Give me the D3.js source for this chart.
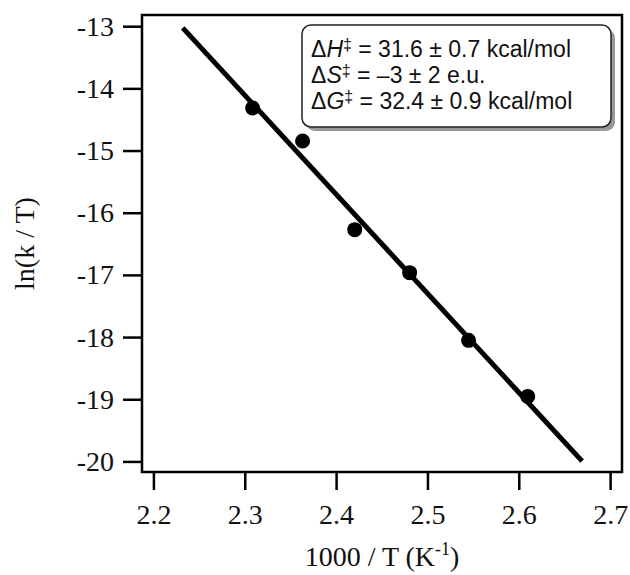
<!DOCTYPE html>
<html>
<head>
<meta charset="utf-8">
<script src="https://cdn.jsdelivr.net/npm/d3@7"></script>
<style>
  body { margin: 0; background: #fff; }
</style>
</head>
<body>
<div id="chart"></div>
<script>
// data
const invT = [2.3086, 2.3633, 2.4204, 2.4805, 2.545, 2.6098];
const lnkT = [-14.315, -14.846, -16.272, -16.964, -18.053, -18.954];
const fitX = [2.2321, 2.6693];
const fitY = [-13.027, -19.995];
const xTicks = [2.2, 2.3, 2.4, 2.5, 2.6, 2.7];
const yTicks = [-13, -14, -15, -16, -17, -18, -19, -20];
const boxLines = [
  { sym: 'H', rest: ' = 31.6 ± 0.7 kcal/mol' },
  { sym: 'S', rest: ' = –3 ± 2 e.u.' },
  { sym: 'G', rest: ' = 32.4 ± 0.9 kcal/mol' }
];

const width = 630, height = 575;
const plot = { left: 142, right: 622, top: 15, bottom: 472 };
const serif = '"Liberation Serif", "DejaVu Serif", serif';
const sans = '"Liberation Sans", Arial, sans-serif';

const svg = d3.select('#chart').append('svg')
  .attr('width', width)
  .attr('height', height);

const x = d3.scaleLinear()
  .domain([2.1875, 2.713])
  .range([plot.left, plot.right]);

const y = d3.scaleLinear()
  .domain([-12.82, -20.17])
  .range([plot.top, plot.bottom]);

// X-axis
const xAxis = svg.append('g')
  .attr('transform', `translate(0, ${plot.bottom})`)
  .call(d3.axisBottom(x).tickValues(xTicks).tickSize(18).tickPadding(14).tickFormat(d3.format('.1f')));

// Y-axis
const yAxis = svg.append('g')
  .attr('transform', `translate(${plot.left}, 0)`)
  .call(d3.axisLeft(y).tickValues(yTicks).tickSize(19).tickPadding(9).tickFormat(d => d.toString().replace('−', '-')));

[xAxis, yAxis].forEach(ax => {
  ax.select('.domain').remove();
  ax.selectAll('line').attr('stroke', '#000').attr('stroke-width', 2.5);
  ax.selectAll('text')
    .style('font-family', serif)
    .style('font-size', '28px')
    .attr('fill', '#111');
});

// frame
svg.append('rect')
  .attr('x', plot.left)
  .attr('y', plot.top)
  .attr('width', plot.right - plot.left)
  .attr('height', plot.bottom - plot.top)
  .attr('fill', 'none')
  .attr('stroke', '#000')
  .attr('stroke-width', 2.5);

// fit line
svg.append('path')
  .datum(fitX.map((v, i) => [v, fitY[i]]))
  .attr('d', d3.line().x(d => x(d[0])).y(d => y(d[1])))
  .attr('stroke', '#000')
  .attr('stroke-width', 5)
  .attr('fill', 'none');

// points
svg.selectAll('.pt')
  .data(invT)
  .enter().append('circle')
  .attr('class', 'pt')
  .attr('cx', d => x(d))
  .attr('cy', (d, i) => y(lnkT[i]))
  .attr('r', 7.5)
  .attr('fill', '#000');

// parameter box
const box = { x: 302, y: 25, w: 309, h: 102 };
svg.append('rect')
  .attr('x', box.x + 4).attr('y', box.y + 4)
  .attr('width', box.w).attr('height', box.h)
  .attr('rx', 9)
  .attr('fill', '#999');
svg.append('rect')
  .attr('x', box.x).attr('y', box.y)
  .attr('width', box.w).attr('height', box.h)
  .attr('rx', 9)
  .attr('fill', '#fff')
  .attr('stroke', '#222')
  .attr('stroke-width', 1.5);

boxLines.forEach((l, i) => {
  const t = svg.append('text')
    .attr('x', 311)
    .attr('y', 57 + i * 26)
    .style('font-family', sans)
    .style('font-size', '23px')
    .attr('fill', '#111');
  t.append('tspan').text('Δ');
  t.append('tspan').style('font-style', 'italic').text(l.sym);
  t.append('tspan').attr('dy', -7).style('font-size', '16px').text('‡');
  t.append('tspan').attr('dy', 7).text(l.rest);
});

// axis titles
svg.append('text')
  .attr('transform', `translate(34, ${(plot.top + plot.bottom) / 2}) rotate(-90)`)
  .attr('text-anchor', 'middle')
  .style('font-family', serif)
  .style('font-size', '28px')
  .attr('fill', '#111')
  .text('ln(k / T)');

const xt = svg.append('text')
  .attr('x', (plot.left + plot.right) / 2)
  .attr('y', 566)
  .attr('text-anchor', 'middle')
  .style('font-family', serif)
  .style('font-size', '28px')
  .attr('fill', '#111');
xt.append('tspan').text('1000 / T (K');
xt.append('tspan').attr('dy', -11).style('font-size', '18px').text('-1');
xt.append('tspan').attr('dy', 11).text(')');
</script>
</body>
</html>
